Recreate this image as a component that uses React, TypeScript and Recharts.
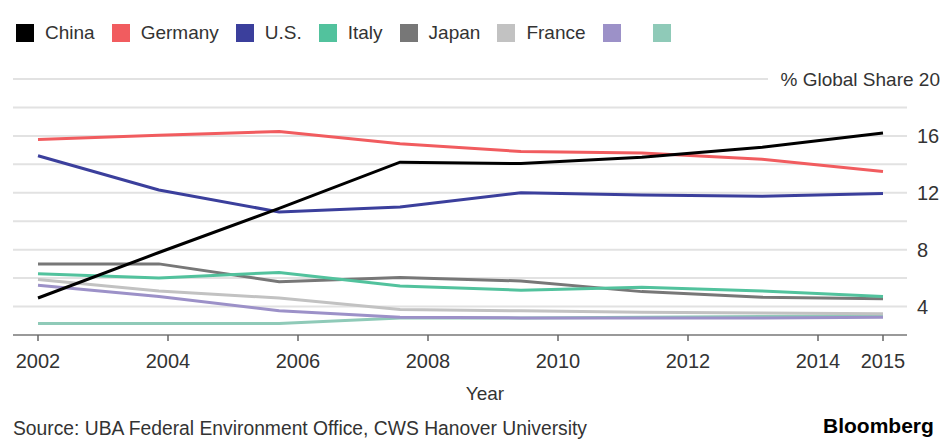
import { CartesianGrid, Line, LineChart, XAxis, YAxis } from "recharts"

const years = [2002, 2003.86, 2005.71, 2007.57, 2009.43, 2011.29, 2013.14, 2015]

const china = [4.6, 7.8, 10.9, 14.15, 14.05, 14.5, 15.2, 16.2]
const germany = [15.75, 16.05, 16.3, 15.45, 14.9, 14.8, 14.35, 13.5]
const us = [14.6, 12.2, 10.65, 11.0, 12.0, 11.85, 11.75, 11.95]
const italy = [6.3, 6.0, 6.4, 5.45, 5.15, 5.35, 5.1, 4.7]
const japan = [7.0, 7.0, 5.75, 6.05, 5.8, 5.05, 4.65, 4.55]
const france = [5.9, 5.1, 4.6, 3.8, 3.7, 3.6, 3.55, 3.5]
const other1 = [5.5, 4.7, 3.7, 3.25, 3.2, 3.2, 3.2, 3.25]
const other2 = [2.8, 2.8, 2.8, 3.2, 3.2, 3.25, 3.3, 3.35]

const seriesNames = ["China", "Germany", "U.S.", "Italy", "Japan", "France", "", ""]
const seriesColors = ["#000000", "#f15c5f", "#3b3f9c", "#52c29d", "#777777", "#c2c2c2", "#9c91c8", "#8fcab8"]
const seriesValues = [china, germany, us, italy, japan, france, other1, other2]

const xTicks = [2002, 2004, 2006, 2008, 2010, 2012, 2014, 2015]
const yTicks = [2, 4, 6, 8, 10, 12, 14, 16, 18, 20]
const yLabels = [4, 8, 12, 16, 20]

const data = years.map((year, i) => {
  const row: Record<string, number> = { year }
  seriesValues.forEach((vals, s) => {
    row["s" + s] = vals[i]
  })
  return row
})

const font = "'Liberation Sans', Arial, sans-serif"

function YTick(props: any) {
  const { x, y, payload } = props
  const v = payload.value
  if (!yLabels.includes(v)) return null
  if (v === 20) {
    return (
      <g>
        <rect x={768} y={y - 12} width={139} height={24} fill="#fff" />
        <text x={x + 23} y={y} dy="0.35em" textAnchor="end" fontSize={19} fill="#333" fontFamily={font}>
          % Global Share 20
        </text>
      </g>
    )
  }
  return (
    <text x={x} y={y} dy="0.35em" textAnchor="start" fontSize={20} fill="#333" fontFamily={font}>
      {v}
    </text>
  )
}

export default function App() {
  return (
    <div style={{ position: "absolute", left: 0, top: 0, width: 943, height: 440, background: "#fff", fontFamily: font, overflow: "hidden" }}>
      <div style={{ position: "absolute", left: 16, top: 22, display: "flex", alignItems: "center", fontSize: 19, color: "#333" }}>
        {seriesNames.map((name, i) => (
          <div key={i} style={{ display: "flex", alignItems: "center", marginRight: name ? 17 : 16 }}>
            <span style={{ display: "inline-block", width: 18, height: 18, background: seriesColors[i] }} />
            {name && <span style={{ marginLeft: 11 }}>{name}</span>}
            {!name && <span style={{ marginLeft: 16 }} />}
          </div>
        ))}
      </div>
      <LineChart width={943} height={440} data={data} margin={{ top: 79, right: 0, bottom: 75, left: 13 }}>
        <CartesianGrid vertical={false} stroke="#e2e2e2" strokeWidth={2} />
        <XAxis
          dataKey="year"
          type="number"
          domain={[2002, 2015]}
          ticks={xTicks}
          interval={0}
          padding={{ left: 25, right: 24 }}
          height={30}
          stroke="#999"
          strokeWidth={2}
          tickSize={6}
          tickMargin={13}
          tickLine={{ stroke: "#666", strokeWidth: 1.5 }}
          tick={{ fontSize: 20, fill: "#333", fontFamily: font }}
        />
        <YAxis
          orientation="right"
          type="number"
          domain={[2, 20]}
          ticks={yTicks}
          interval={0}
          width={36}
          axisLine={false}
          tickLine={false}
          tickMargin={4}
          tick={<YTick />}
        />
        {seriesValues.map((_, i) => {
          const s = seriesValues.length - 1 - i
          return (
            <Line
              key={s}
              dataKey={"s" + s}
              type="linear"
              stroke={seriesColors[s]}
              strokeWidth={3}
              dot={false}
              isAnimationActive={false}
            />
          )
        })}
      </LineChart>
      <div style={{ position: "absolute", left: 485, top: 383, transform: "translateX(-50%)", fontSize: 19, color: "#333" }}>Year</div>
      <div style={{ position: "absolute", left: 13, top: 418, fontSize: 19.3, color: "#333", whiteSpace: "nowrap" }}>
        Source: UBA Federal Environment Office, CWS Hanover University
      </div>
      <div style={{ position: "absolute", left: 823, top: 414, fontSize: 21, fontWeight: 700, color: "#000", whiteSpace: "nowrap" }}>Bloomberg</div>
    </div>
  )
}
